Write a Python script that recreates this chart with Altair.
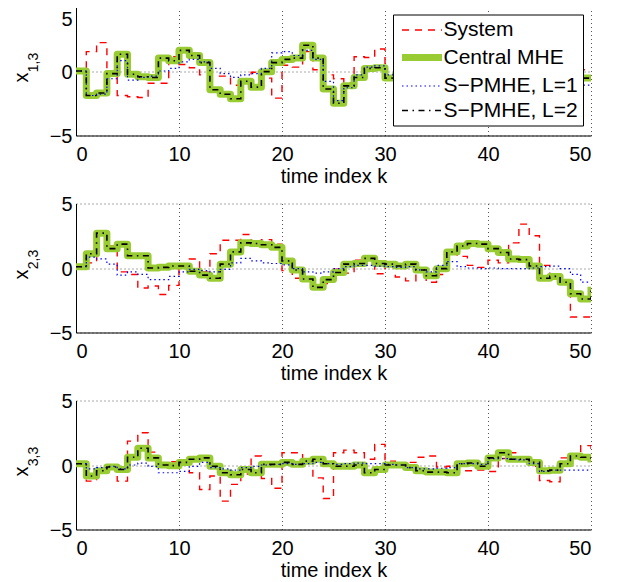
import altair as alt
import pandas as pd

k = list(range(51))
series_names = ["System", "Central MHE", "S\u2212PMHE, L=1", "S\u2212PMHE, L=2"]
series_colors = ["#ff0000", "#99cc33", "#0000ff", "#000000"]
series_dashes = [[7, 6], [1, 0], [1.5, 3], [6, 4.5, 1.5, 4.5]]
series_widths = [1.4, 7, 1.2, 1.6]

x_ticks = [0, 10, 20, 30, 40, 50]
y_ticks = [-5, 0, 5]
y_subs = ["1,3", "2,3", "3,3"]

# ---- panel 1 : x_{1,3}
sys_1 = [0, 1.5, 2.2, -0.2, -1.9, -2.0, -2.05, -0.95, -0.95, 1.1, 0.5, 0.25, -0.3, -0.4, -0.4,
         -1.1, -0.6, -0.1, -0.55, -2.1, 0.45, 0.3, 1.5, 0.1, -0.3, -0.6, -0.9, 1.1, 1.05, 1.7,
         -0.7, 0.5, -0.4, 1.6, -0.3, -1.2, 0.3, -1.5, 1.0, 1.9, 0.4, 1.8, -0.6, -1.6, 0.2, -0.9,
         1.1, 0.9, -0.8, 0.1, 0.1]
mhe_1 = [0, -1.9, -1.7, -0.2, 1.3, -0.25, -0.45, -0.5, 1.0, 0.8, 1.6, 1.2, 0.65, -1.45, -1.8,
         -2.15, -0.8, -1.25, -0.05, 0.65, 0.9, 1.0, 2.0, 1.0, -1.4, -2.5, -1.15, -0.5, 0.2, 0.25,
         -0.55, -0.3, 0.4, 0.9, 0.5, -0.2, -0.8, -0.4, 0.3, 0.8, 1.2, 0.6, 0.1, -0.5, -1.0, -0.6,
         0.2, 0.5, -0.2, -0.55, -0.6]
l1_1 = [0, -1.9, -1.8, -0.6, 0.8, -0.7, -0.5, -0.4, 0.0, 0.2, 0.7, 0.9, 0.7, 0.2, -0.2,
        -0.5, -0.3, -0.2, 0.2, 1.4, 1.5, 1.2, 1.6, 0.9, -0.8, -2.3, -1.3, -0.3, 0.3, 0.4,
        -0.3, -0.1, 0.3, 0.6, 0.4, 0.0, -0.4, -0.2, 0.2, 0.5, 0.8, 0.4, 0.1, -0.3, -0.6, -0.4,
        0.1, 0.3, -0.2, -1.1, -1.1]
l2_1 = [0, -1.9, -1.7, -0.2, 1.3, -0.25, -0.45, -0.5, 1.0, 0.8, 1.6, 1.2, 0.65, -1.45, -1.8,
        -2.15, -0.8, -1.25, -0.05, 0.65, 0.9, 1.0, 2.0, 1.0, -1.4, -2.5, -1.15, -0.5, 0.2, 0.25,
        -0.55, -0.3, 0.4, 0.9, 0.5, -0.2, -0.8, -0.4, 0.3, 0.8, 1.2, 0.6, 0.1, -0.5, -1.0, -0.6,
        0.2, 0.5, -0.2, -0.55, -0.6]

# ---- panel 2 : x_{2,3}
sys_2 = [0.1, 0.4, 2.7, 1.7, -0.3, -0.5, -1.55, -1.4, -2.05, -1.35, 0.15, 0.7, -0.3, 1.1, 2.15,
         2.15, 2.6, 1.9, 2.2, 1.85, -0.2, -0.8, -0.85, -1.5, -1.2, -0.1, -0.4, 0.6, 0.75, -0.45,
         0.3, -0.7, -1.0, -0.15, -1.1, -0.5, 1.2, 0.9, 0.2, 0.05, 0.6, 0.4, 1.95, 3.4, 2.5, 0.2,
         -0.7, -1.0, -3.8, -3.8, -3.8]
mhe_2 = [0.1, 1.1, 2.7, 1.5, 1.85, 0.95, 0.95, 0.0, 0.05, 0.15, 0.15, -0.25, -0.55, -0.8, 0.3,
         1.25, 1.95, 1.9, 1.8, 1.6, 0.55, -0.15, -0.85, -1.5, -0.9, -0.35, 0.3, 0.35, 0.75, 0.35,
         0.3, 0.15, 0.3, -0.15, -0.6, -0.05, 1.25, 1.7, 1.9, 1.85, 1.5, 1.2, 0.7, 0.65, 0.15, -0.8,
         -0.65, -1.1, -2.0, -2.4, -1.45]
l1_2 = [0.1, 0.85, 0.7, 0.3, -0.55, -0.3, -0.5, -0.9, -0.9, -0.65, -0.3, -0.1, -0.2, -0.3, -0.1,
        0.4, 0.75, 0.55, 0.4, 0.35, 0.25, -0.05, -0.3, -0.4, -0.3, -0.05, 0.1, 0.2, 0.2, 0.15,
        0.1, 0.05, 0.1, -0.15, -0.3, 0.2, 0.5, 0.1, 0.0, -0.05, 0.0, -0.05, -0.05, -0.05, 0.0, 0.1,
        0.15, -0.05, -0.5, -1.1, -1.1]
l2_2 = [0.1, 1.1, 2.7, 1.5, 1.85, 0.95, 0.95, 0.0, 0.05, 0.15, 0.15, -0.25, -0.55, -0.8, 0.3,
        1.25, 1.95, 1.9, 1.8, 1.6, 0.55, -0.15, -0.85, -1.5, -0.9, -0.35, 0.3, 0.35, 0.75, 0.35,
        0.3, 0.15, 0.3, -0.15, -0.6, -0.05, 1.25, 1.7, 1.9, 1.85, 1.5, 1.2, 0.7, 0.65, 0.15, -0.8,
        -0.65, -1.1, -2.0, -2.4, -1.45]

# ---- panel 3 : x_{3,3}
sys_3 = [0.1, -1.25, -0.5, -0.3, -1.25, 1.85, 2.5, 1.0, 0.0, 0.25, 0.2, -0.6, -1.9, -0.85, -2.8,
         -1.5, -0.7, 0.7, -1.05, -1.8, 0.95, 0.95, 0.45, -1.0, -2.6, 0.95, 1.15, 0.95, 0.45, 1.6,
         0.3, 0.0, 0.2, 0.6, 0.7, -0.15, -0.1, -0.45, -0.45, -0.4, -0.5, 0.5, 0.95, 0.45, -0.1,
         -1.2, -1.3, 0.55, 0.6, 1.5, 0.8]
mhe_3 = [0.1, -0.85, -0.45, -0.15, -0.35, 0.6, 1.3, 0.55, 0.0, -0.05, 0.2, 0.45, 0.55, -0.1, -0.6,
         -0.75, -0.35, -0.6, 0.05, 0.05, 0.2, 0.05, 0.3, 0.45, 0.1, -0.1, -0.1, 0.0, -0.6, -0.35,
         0.0, 0.0, -0.2, -0.45, -0.55, -0.55, -0.6, 0.1, 0.15, -0.1, 0.55, 0.95, 0.45, 0.45, 0.2,
         -0.45, -0.4, 0.1, 0.7, 0.6, 0.2]
l1_3 = [0.1, -0.3, -0.2, -0.1, -0.3, 0.0, 0.15, -0.1, -0.6, -0.6, -0.5, -0.1, 0.2, -0.2, -0.3,
        -0.4, -0.2, -0.1, 0.0, 0.05, 0.1, 0.05, 0.1, 0.2, 0.1, 0.05, 0.1, 0.15, 0.1, 0.1,
        0.05, 0.0, -0.2, -0.3, -0.3, -0.25, -0.2, 0.1, 0.1, 0.05, 0.5, 0.5, 0.45, 0.4, 0.1,
        -0.5, -0.4, -0.4, -0.4, -0.4, -0.4]
l2_3 = [0.1, -0.85, -0.45, -0.15, -0.35, 0.6, 1.3, 0.55, 0.0, -0.05, 0.2, 0.45, 0.55, -0.1, -0.6,
        -0.75, -0.35, -0.6, 0.05, 0.05, 0.2, 0.05, 0.3, 0.45, 0.1, -0.1, -0.1, 0.0, -0.6, -0.35,
        0.0, 0.0, -0.2, -0.45, -0.55, -0.55, -0.6, 0.1, 0.15, -0.1, 0.55, 0.95, 0.45, 0.45, 0.2,
        -0.45, -0.4, 0.1, 0.7, 0.6, 0.2]

panels_data = [
    [sys_1, mhe_1, l1_1, l2_1],
    [sys_2, mhe_2, l1_2, l2_2],
    [sys_3, mhe_3, l1_3, l2_3],
]

FONT = "Liberation Sans"


def make_panel(series_values, sub, is_top):
    rows = []
    for name, vals in zip(series_names, series_values):
        for kk, v in zip(k, vals):
            rows.append({"k": kk, "value": v, "series": name})
    df = pd.DataFrame(rows)

    leg = None
    if is_top:
        leg = alt.Legend(
            title=None, orient="none", legendX=317, legendY=8,
            symbolType="M-1.3,0H6.7", symbolSize=100, labelOffset=24.5,
            labelFont=FONT, labelFontSize=21, labelColor="black", labelLimit=0,
            fillColor="white", strokeColor="black", padding=5, rowPadding=2.5,
            cornerRadius=0,
        )
    if is_top:
        y_label_offset = {"condition": {"test": "datum.value == 5", "value": 12.5}, "value": 1}
    else:
        y_label_offset = 1
    x = alt.X("k:Q", scale=alt.Scale(domain=[0, 50], nice=False),
              axis=alt.Axis(values=x_ticks, title="time index k"))
    y = alt.Y("value:Q", scale=alt.Scale(domain=[-5, 5], nice=False),
              axis=alt.Axis(values=y_ticks, title=None, labelOffset=y_label_offset))
    color = alt.Color("series:N", scale=alt.Scale(domain=series_names, range=series_colors), legend=leg)
    dash = alt.StrokeDash("series:N", scale=alt.Scale(domain=series_names, range=series_dashes), legend=leg)
    width = alt.StrokeWidth("series:N", scale=alt.Scale(type="ordinal", domain=series_names, range=series_widths), legend=leg)

    layers = []
    for name in series_names:
        join = "round" if name == "Central MHE" else "miter"
        layers.append(
            alt.Chart(df).transform_filter(alt.datum.series == name)
            .mark_line(interpolate="step-after", clip=True, strokeJoin=join)
            .encode(x=x, y=y, color=color, strokeDash=dash, strokeWidth=width)
        )
    tx = alt.Chart(pd.DataFrame({"t": ["x"]})).mark_text(
        angle=270, fontSize=20, font=FONT, align="center", baseline="middle", color="black"
    ).encode(text="t:N", x=alt.value(-54), y=alt.value(71))
    ts = alt.Chart(pd.DataFrame({"t": [sub]})).mark_text(
        angle=270, fontSize=14, font=FONT, align="center", baseline="middle", color="black"
    ).encode(text="t:N", x=alt.value(-42), y=alt.value(56))
    layers += [tx, ts]
    return alt.layer(*layers).properties(width=515, height=129)


panels = [make_panel(panels_data[i], y_subs[i], i == 0) for i in range(3)]

chart = (
    alt.vconcat(*panels, spacing=8)
    .resolve_legend(color="independent", strokeDash="independent", strokeWidth="independent")
    .properties(padding={"left": 4, "top": -1.5, "right": 5, "bottom": 0})
    .configure_view(stroke=None)
    .configure_axis(
        domainColor="black", domainWidth=1, ticks=False, tickSize=0,
        grid=True, gridColor="#555555", gridDash=[1, 3], gridWidth=1, gridOpacity=1,
        labelFont=FONT, labelFontSize=20, labelColor="black",
        titleFont=FONT, titleFontSize=20, titleColor="black", titleFontWeight="normal",
    )
    .configure_axisX(labelPadding=9, titlePadding=2)
    .configure_axisY(labelPadding=4)
)

chart.save("out.html", embed_options={"renderer": "svg", "actions": False})
